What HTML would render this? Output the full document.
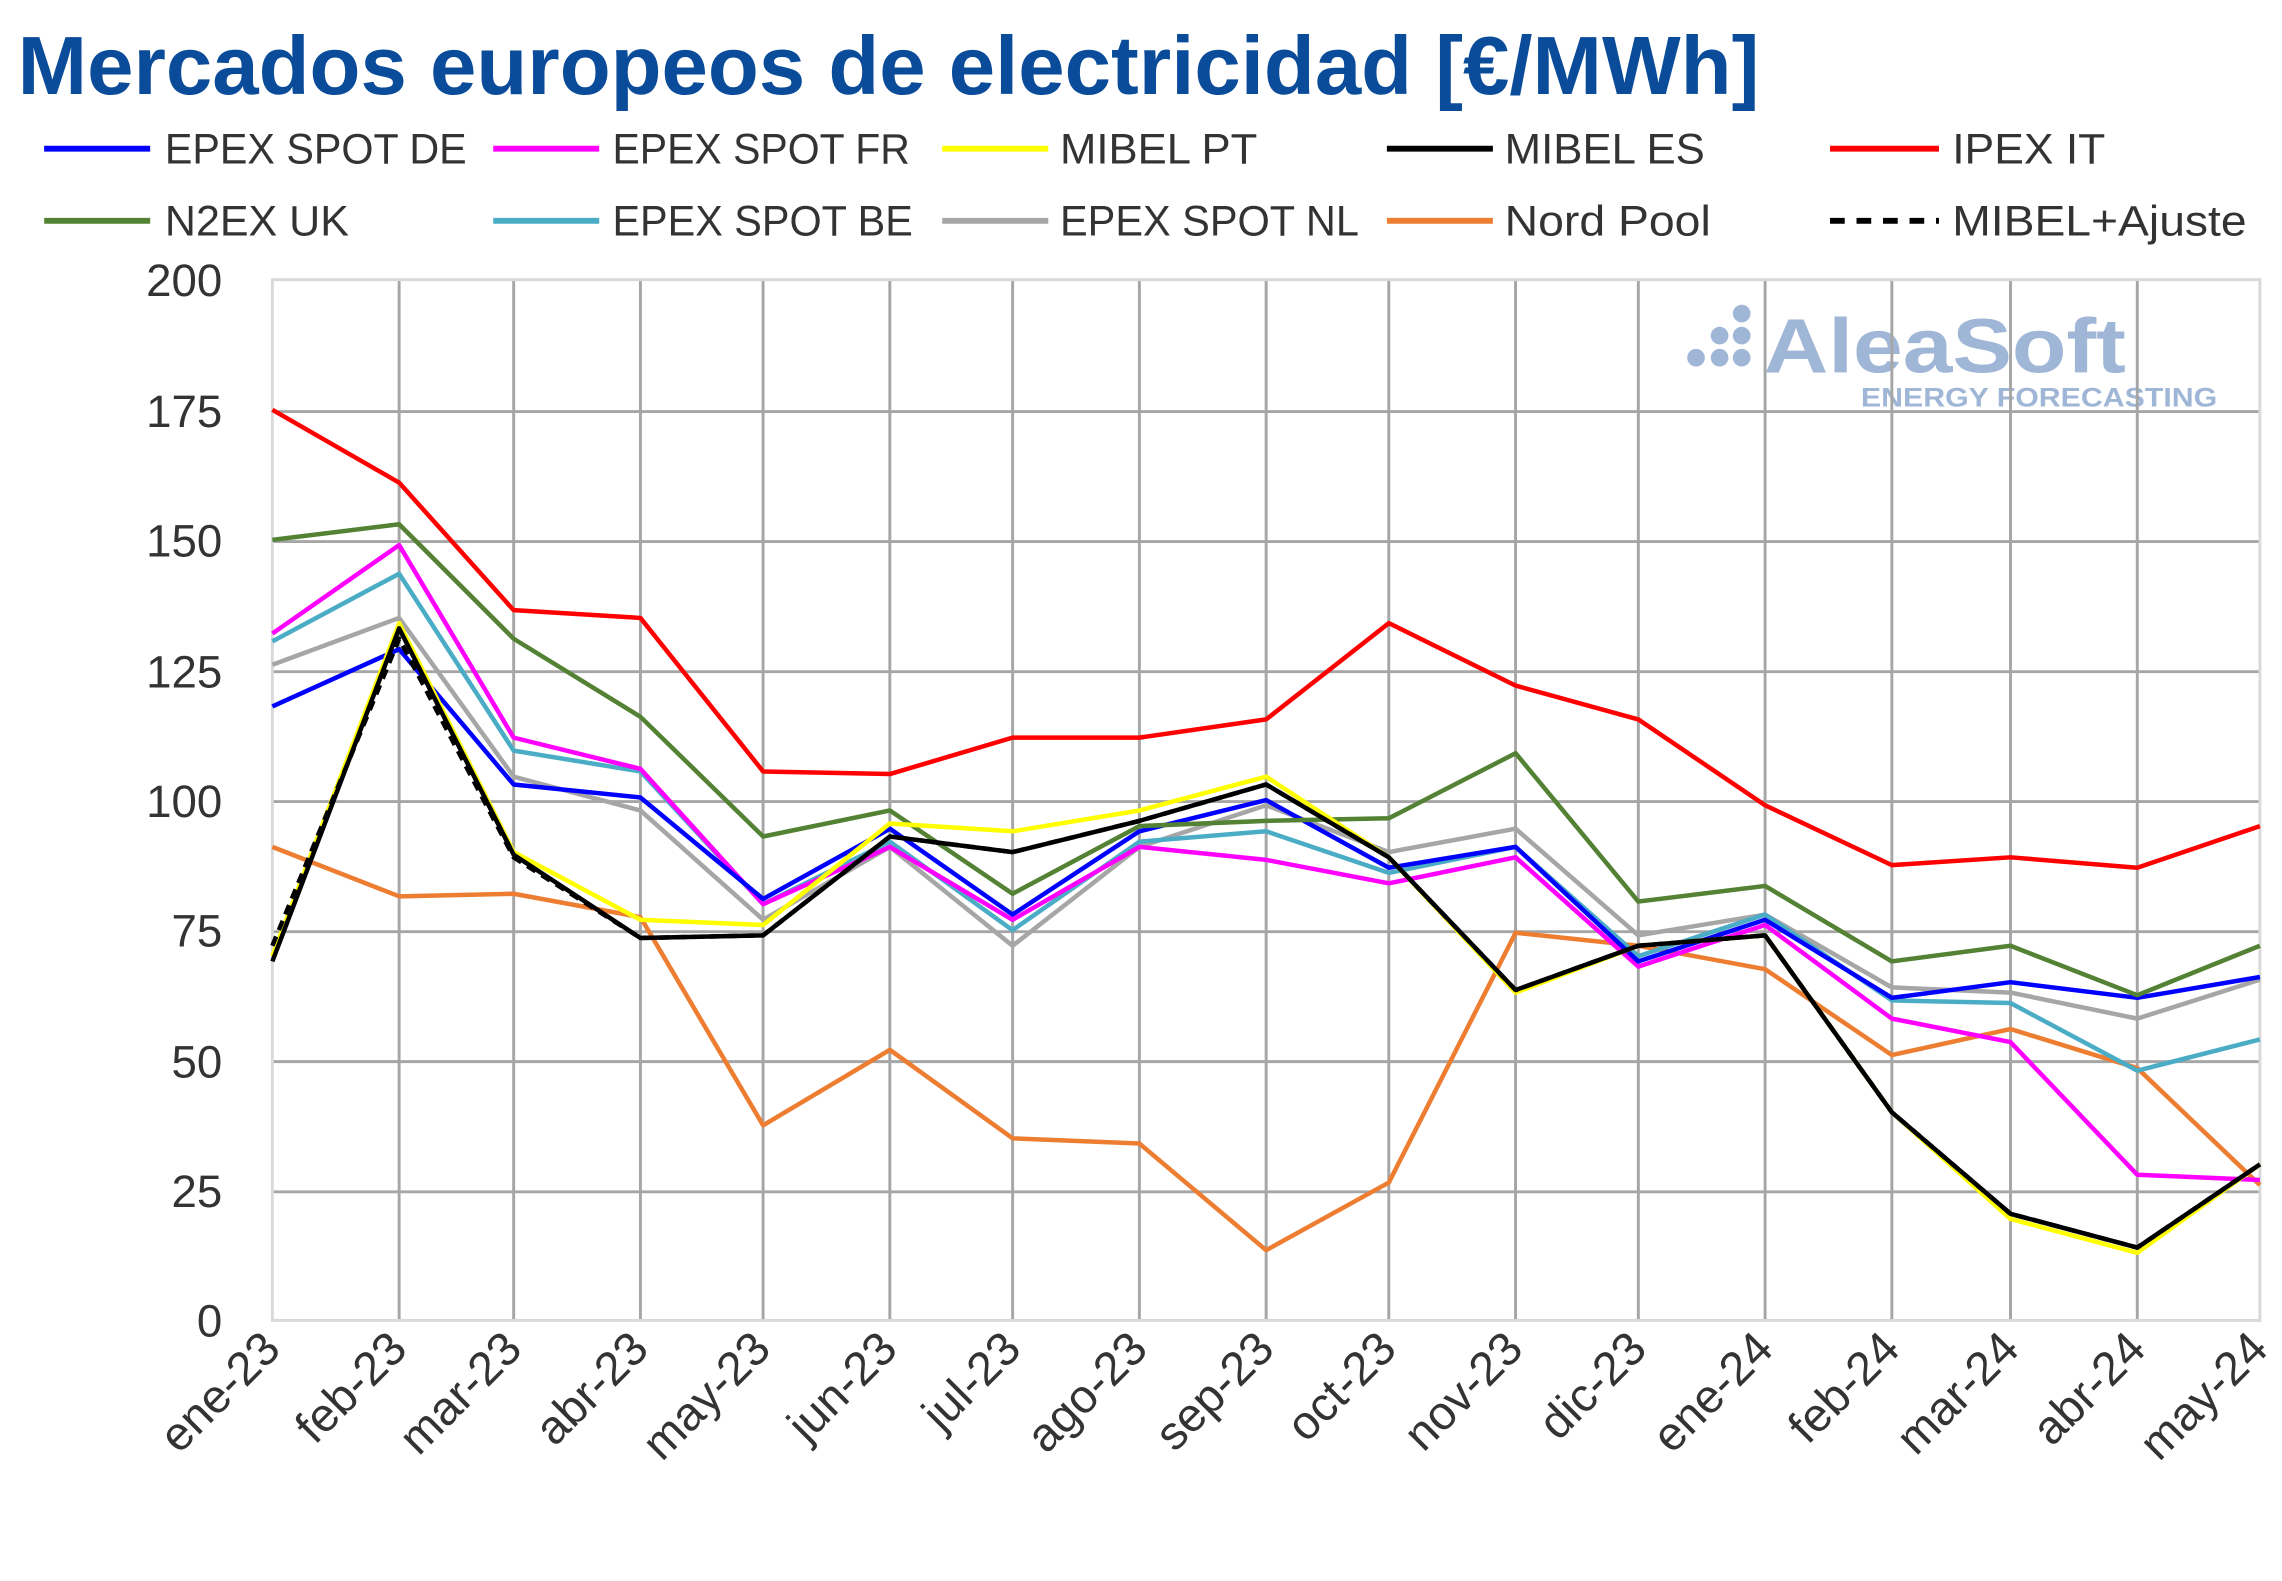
<!DOCTYPE html>
<html><head><meta charset="utf-8"><style>
html,body{margin:0;padding:0;background:#fff;}
svg{display:block;}
text{font-family:"Liberation Sans",sans-serif;}
</style></head><body>
<svg width="2282" height="1581" viewBox="0 0 1550 1074" preserveAspectRatio="none" xmlns="http://www.w3.org/2000/svg">
<rect width="1550" height="1074" fill="#fff"/>
<text x="12" y="64" font-size="56" font-weight="bold" fill="#0B4C9A" textLength="1183" lengthAdjust="spacingAndGlyphs">Mercados europeos de electricidad [€/MWh]</text>
<g font-size="29" fill="#333">
<line x1="30" y1="101" x2="102" y2="101" stroke="#0000FF" stroke-width="4"/><text x="112" y="111" textLength="205" lengthAdjust="spacingAndGlyphs">EPEX SPOT DE</text>
<line x1="335" y1="101" x2="407" y2="101" stroke="#FF00FF" stroke-width="4"/><text x="416" y="111" textLength="202" lengthAdjust="spacingAndGlyphs">EPEX SPOT FR</text>
<line x1="640" y1="101" x2="712" y2="101" stroke="#FFFF00" stroke-width="4"/><text x="720" y="111" textLength="134" lengthAdjust="spacingAndGlyphs">MIBEL PT</text>
<line x1="942" y1="101" x2="1014" y2="101" stroke="#000" stroke-width="4"/><text x="1022" y="111" textLength="136" lengthAdjust="spacingAndGlyphs">MIBEL ES</text>
<line x1="1243" y1="101" x2="1317" y2="101" stroke="#FF0000" stroke-width="4"/><text x="1326" y="111" textLength="104" lengthAdjust="spacingAndGlyphs">IPEX IT</text>
<line x1="30" y1="150" x2="102" y2="150" stroke="#548235" stroke-width="4"/><text x="112" y="160" textLength="125" lengthAdjust="spacingAndGlyphs">N2EX UK</text>
<line x1="335" y1="150" x2="407" y2="150" stroke="#4BACC6" stroke-width="4"/><text x="416" y="160" textLength="204" lengthAdjust="spacingAndGlyphs">EPEX SPOT BE</text>
<line x1="640" y1="150" x2="712" y2="150" stroke="#A6A6A6" stroke-width="4"/><text x="720" y="160" textLength="203" lengthAdjust="spacingAndGlyphs">EPEX SPOT NL</text>
<line x1="942" y1="150" x2="1014" y2="150" stroke="#ED7D31" stroke-width="4"/><text x="1022" y="160" textLength="140" lengthAdjust="spacingAndGlyphs">Nord Pool</text>
<line x1="1243" y1="150" x2="1317" y2="150" stroke="#000" stroke-width="4" stroke-dasharray="10,8"/><text x="1326" y="160" textLength="200" lengthAdjust="spacingAndGlyphs">MIBEL+Ajuste</text>
</g>
<g fill="#A0B6D6">
<circle cx="1183" cy="213" r="6"/><circle cx="1183" cy="228" r="6"/><circle cx="1183" cy="243" r="6"/>
<circle cx="1168" cy="228" r="6"/><circle cx="1168" cy="243" r="6"/><circle cx="1152" cy="243" r="6"/>
<text x="1198" y="253" font-size="52" font-weight="bold" textLength="246" lengthAdjust="spacingAndGlyphs">AleaSoft</text>
<text x="1264" y="276" font-size="18" font-weight="bold" textLength="242" lengthAdjust="spacingAndGlyphs">ENERGY FORECASTING</text>
</g>
<g stroke="#A6A6A6" stroke-width="2">
<line x1="185" y1="279.6" x2="1535" y2="279.6"/><line x1="185" y1="367.9" x2="1535" y2="367.9"/>
<line x1="185" y1="456.3" x2="1535" y2="456.3"/><line x1="185" y1="544.5" x2="1535" y2="544.5"/>
<line x1="185" y1="632.9" x2="1535" y2="632.9"/><line x1="185" y1="721.2" x2="1535" y2="721.2"/>
<line x1="185" y1="809.6" x2="1535" y2="809.6"/>
<line x1="271.1" y1="190" x2="271.1" y2="897"/><line x1="348.9" y1="190" x2="348.9" y2="897"/>
<line x1="435" y1="190" x2="435" y2="897"/><line x1="518.3" y1="190" x2="518.3" y2="897"/>
<line x1="604.4" y1="190" x2="604.4" y2="897"/><line x1="687.8" y1="190" x2="687.8" y2="897"/>
<line x1="773.9" y1="190" x2="773.9" y2="897"/><line x1="860" y1="190" x2="860" y2="897"/>
<line x1="943.3" y1="190" x2="943.3" y2="897"/><line x1="1029.4" y1="190" x2="1029.4" y2="897"/>
<line x1="1112.8" y1="190" x2="1112.8" y2="897"/><line x1="1198.9" y1="190" x2="1198.9" y2="897"/>
<line x1="1285" y1="190" x2="1285" y2="897"/><line x1="1365.6" y1="190" x2="1365.6" y2="897"/>
<line x1="1451.7" y1="190" x2="1451.7" y2="897"/>
</g>
<g stroke="#D9D9D9" stroke-width="2" fill="none"><rect x="185" y="190" width="1350" height="707"/></g>
<g font-size="31" fill="#333" text-anchor="end">
<text x="151" y="201">200</text><text x="151" y="290">175</text><text x="151" y="378">150</text>
<text x="151" y="467">125</text><text x="151" y="555">100</text><text x="151" y="643">75</text>
<text x="151" y="732">50</text><text x="151" y="820">25</text><text x="151" y="908">0</text>
</g>
<g font-size="32" fill="#333" text-anchor="end">
<text transform="translate(192,918) rotate(-45)">ene-23</text>
<text transform="translate(278,918) rotate(-45)">feb-23</text>
<text transform="translate(356,918) rotate(-45)">mar-23</text>
<text transform="translate(442,918) rotate(-45)">abr-23</text>
<text transform="translate(525,918) rotate(-45)">may-23</text>
<text transform="translate(611,918) rotate(-45)">jun-23</text>
<text transform="translate(695,918) rotate(-45)">jul-23</text>
<text transform="translate(781,918) rotate(-45)">ago-23</text>
<text transform="translate(867,918) rotate(-45)">sep-23</text>
<text transform="translate(950,918) rotate(-45)">oct-23</text>
<text transform="translate(1036,918) rotate(-45)">nov-23</text>
<text transform="translate(1120,918) rotate(-45)">dic-23</text>
<text transform="translate(1206,918) rotate(-45)">ene-24</text>
<text transform="translate(1292,918) rotate(-45)">feb-24</text>
<text transform="translate(1373,918) rotate(-45)">mar-24</text>
<text transform="translate(1459,918) rotate(-45)">abr-24</text>
<text transform="translate(1542,918) rotate(-45)">may-24</text>
</g>
<g transform="translate(185,897) scale(2.7778,-3.535)" fill="none" stroke-width="4.5" stroke-linejoin="round">
<polyline vector-effect="non-scaling-stroke" stroke="#ED7D31" points="0,91 31,81.5 59,82 90,77.5 120,37.5 151,52 181,35 212,34 243,13.5 273,26.5 304,74.5 334,72 365,67.5 396,51 425,56 456,48.5 486,26"/>
<polyline vector-effect="non-scaling-stroke" stroke="#A6A6A6" points="0,126 31,135 59,104.5 90,98 120,77 151,91 181,72 212,91 243,99 273,90 304,94.5 334,74 365,78 396,64 425,63 456,58 486,65.5"/>
<polyline vector-effect="non-scaling-stroke" stroke="#4BACC6" points="0,130.5 31,143.5 59,109.5 90,105.5 120,80 151,92 181,75 212,92 243,94 273,86 304,91 334,70 365,78 396,61.5 425,61 456,48 486,54"/>
<polyline vector-effect="non-scaling-stroke" stroke="#FF00FF" points="0,132 31,149 59,112 90,106 120,80 151,91 181,77 212,91 243,88.5 273,84 304,89 334,68 365,76 396,58 425,53.5 456,28 486,27"/>
<polyline vector-effect="non-scaling-stroke" stroke="#0000FF" points="0,118 31,129 59,103 90,100.5 120,81 151,94.5 181,78 212,94 243,100 273,87 304,91 334,69 365,77 396,62 425,65 456,62 486,66"/>
<polyline vector-effect="non-scaling-stroke" stroke="#548235" points="0,150 31,153 59,131 90,116 120,93 151,98 181,82 212,95 243,96 273,96.5 304,109 334,80.5 365,83.5 396,69 425,72 456,62.5 486,72"/>
<polyline vector-effect="non-scaling-stroke" stroke="#FF0000" points="0,175 31,161 59,136.5 90,135 120,105.5 151,105 181,112 212,112 243,115.5 273,134 304,122 334,115.5 365,99 396,87.5 425,89 456,87 486,95"/>
<polyline vector-effect="non-scaling-stroke" stroke="#FFFF00" points="0,70 31,134 59,90 90,77 120,76 151,95.5 181,94 212,98 243,104.5 273,89 304,63 334,72 365,74 396,40 425,19.5 456,13 486,30"/>
<polyline vector-effect="non-scaling-stroke" stroke="#000" stroke-dasharray="10,7" points="0,72 31,131 59,89 90,73.5 120,74 151,93 181,90 212,96 243,103 273,89 304,63.5 334,72 365,74 396,40 425,20.5 456,14 486,30"/>
<polyline vector-effect="non-scaling-stroke" stroke="#000" points="0,69 31,133 59,89.5 90,73.5 120,74 151,93 181,90 212,96 243,103 273,89 304,63.5 334,72 365,74 396,40 425,20.5 456,14 486,30"/>
</g>
</svg>
</body></html>
